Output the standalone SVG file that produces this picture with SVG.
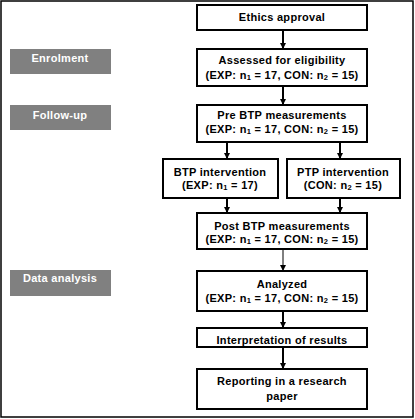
<svg xmlns="http://www.w3.org/2000/svg" width="415" height="419" viewBox="0 0 415 419">
<style>
.box{fill:#fff;stroke:#000;stroke-width:2}
.lab{fill:#808080}
.t{font-family:"Liberation Sans",Arial,sans-serif;font-weight:bold;font-size:11px;text-anchor:middle;fill:#000;letter-spacing:0.3px}
.w{fill:#fff}
.sub{font-size:7.5px}
.c{stroke:#000;stroke-width:2;fill:none}
.c1{stroke:#000;stroke-width:1;fill:none}
</style>
<defs>
<marker id="ah" viewBox="0 0 6 6" markerWidth="6" markerHeight="6" refX="6" refY="3" orient="auto" markerUnits="userSpaceOnUse">
<path d="M0,0 L6,3 L0,6 z" fill="#000"/>
</marker>
</defs>
<rect x="1" y="1" width="412" height="416" fill="#fff" stroke="#000" stroke-width="1.5"/>
<g id="enrolment"><rect class="lab" x="10" y="49" width="101" height="25"/><text class="t w" x="60" y="62">Enrolment</text></g>
<g id="followup"><rect class="lab" x="10" y="105" width="101" height="25"/><text class="t w" x="60" y="119">Follow-up</text></g>
<g id="dataanalysis"><rect class="lab" x="10" y="270" width="101" height="26"/><text class="t w" x="60" y="282">Data analysis</text></g>
<g id="connectors">
<line class="c" x1="283" y1="30" x2="283" y2="49" marker-end="url(#ah)"/>
<line class="c" x1="283" y1="86" x2="283" y2="105" marker-end="url(#ah)"/>
<line class="c" x1="227" y1="142" x2="227" y2="159" marker-end="url(#ah)"/>
<line class="c" x1="340" y1="142" x2="340" y2="159" marker-end="url(#ah)"/>
<line class="c" x1="227" y1="198" x2="227" y2="213" marker-end="url(#ah)"/>
<line class="c" x1="340" y1="198" x2="340" y2="213" marker-end="url(#ah)"/>
<line class="c1" x1="283" y1="249" x2="283" y2="271" marker-end="url(#ah)"/>
<line class="c" x1="283" y1="311" x2="283" y2="328" marker-end="url(#ah)"/>
<line class="c" x1="283" y1="347" x2="283" y2="369" marker-end="url(#ah)"/>
</g>
<g id="ethics"><rect class="box" x="197" y="5" width="170" height="25"/><text class="t" x="282" y="21">Ethics approval</text></g>
<g id="assessed"><rect class="box" x="197" y="49" width="170" height="37"/><text class="t" x="282" y="64">Assessed for eligibility</text><text class="t" x="282" y="79">(EXP: n<tspan class="sub" dy="1">1</tspan><tspan dy="-1"> = 17, CON: n</tspan><tspan class="sub" dy="1">2</tspan><tspan dy="-1"> = 15)</tspan></text></g>
<g id="pre"><rect class="box" x="197" y="105" width="170" height="37"/><text class="t" x="282" y="119">Pre BTP measurements</text><text class="t" x="282" y="133">(EXP: n<tspan class="sub" dy="1">1</tspan><tspan dy="-1"> = 17, CON: n</tspan><tspan class="sub" dy="1">2</tspan><tspan dy="-1"> = 15)</tspan></text></g>
<g id="btp"><rect class="box" x="163" y="159" width="115" height="39"/><text class="t" x="220" y="176">BTP intervention</text><text class="t" x="220" y="189">(EXP: n<tspan class="sub" dy="1">1</tspan><tspan dy="-1"> = 17)</tspan></text></g>
<g id="ptp"><rect class="box" x="287" y="159" width="113" height="39"/><text class="t" x="343" y="176">PTP intervention</text><text class="t" x="343" y="189">(CON: n<tspan class="sub" dy="1">2</tspan><tspan dy="-1"> = 15)</tspan></text></g>
<g id="post"><rect class="box" x="197" y="213" width="170" height="36"/><text class="t" x="282" y="230">Post BTP measurements</text><text class="t" x="282" y="243">(EXP: n<tspan class="sub" dy="1">1</tspan><tspan dy="-1"> = 17, CON: n</tspan><tspan class="sub" dy="1">2</tspan><tspan dy="-1"> = 15)</tspan></text></g>
<g id="analyzed"><rect class="box" x="197" y="271" width="170" height="40"/><text class="t" x="282" y="288">Analyzed</text><text class="t" x="282" y="302">(EXP: n<tspan class="sub" dy="1">1</tspan><tspan dy="-1"> = 17, CON: n</tspan><tspan class="sub" dy="1">2</tspan><tspan dy="-1"> = 15)</tspan></text></g>
<g id="interp"><rect class="box" x="197" y="328" width="170" height="19"/><text class="t" x="282" y="344">Interpretation of results</text></g>
<g id="report"><rect class="box" x="197" y="369" width="170" height="40"/><text class="t" x="282" y="385">Reporting in a research</text><text class="t" x="282" y="400">paper</text></g>
</svg>
